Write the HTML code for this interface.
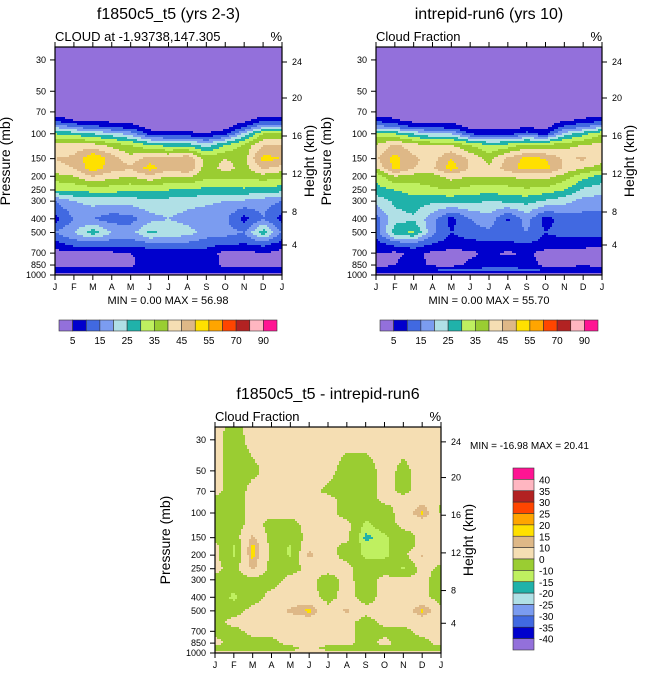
<!DOCTYPE html>
<html><head><meta charset="utf-8"><style>
body{margin:0;background:#fff;}
svg{display:block;font-family:"Liberation Sans",sans-serif;}
</style></head><body>
<svg id="fig" width="647" height="676" viewBox="0 0 647 676" xmlns="http://www.w3.org/2000/svg"></svg>
<script>
const months = ["J","F","M","A","M","J","J","A","S","O","N","D","J"];
const pressureLevels = [25,30,50,70,80,90,100,120,150,175,200,250,300,400,500,600,700,850,925,1000];
const pressureTicks = [30,50,70,100,150,200,250,300,400,500,700,850,1000];
const heightTicks = [24,20,16,12,8,4];
const absLevels = [5,10,15,20,25,30,35,40,45,50,55,60,70,80,90];
const absTickLabels = ["5","15","25","35","45","55","70","90"];
const diffLevels = [-40,-35,-30,-25,-20,-15,-10,0,10,15,20,25,30,35,40];
const diffTickLabels = ["40","35","30","25","20","15","10","0","-10","-15","-20","-25","-30","-35","-40"];
const palette = ["#9370DB","#0000CD","#4169E1","#7B9CF0","#B0E0E6","#20B2AA","#BFF060","#9ACD32","#F5DEB3","#DEB887","#FFE000","#FFA500","#FF4500","#B22222","#FFB6C1","#FF1493"];

const cloudA = [
[0,0,0,0,0,0,0,0,0,0,0,0,0],
[0,0,0,0,0,0,0,0,0,0,0,0,0],
[0,0,0,0,0,0,0,0,0,0,0,0,0],
[1,1,1,1,1,1,1,1,1,1,1,1,1],
[8,5,4,3,2,1,1,1,1,1,3,8,8],
[20,15,12,10,8,3,3,3,3,3,10,20,20],
[30,28,25,22,18,8,6,6,5,8,22,35,35],
[42,42,42,38,35,30,28,28,22,30,36,45,45],
[45,46,55,48,42,48,46,50,38,40,38,52,50],
[44,45,53,47,46,52,47,50,37,42,38,46,43],
[38,40,45,42,40,44,40,41,37,37,36,38,36],
[30,31,32,32,31,31,30,30,28,28,29,28,27],
[15,20,22,22,22,24,23,22,21,20,19,17,15],
[8,15,15,12,13,18,20,18,17,16,8,15,8],
[15,20,28,20,18,26,24,22,18,17,15,28,14],
[8,12,12,12,12,14,15,14,12,11,10,12,8],
[3,4,4,4,5,6,6,6,8,3,3,5,3],
[3,3,3,3,4,8,10,8,10,3,3,3,3],
[8,8,8,8,8,9,9,9,9,8,8,8,8],
[3,3,3,3,3,3,3,3,3,3,3,3,3]];
const cloudB = [
[0,0,0,0,0,0,0,0,0,0,0,0,0],
[0,0,0,0,0,0,0,0,0,0,0,0,0],
[0,0,0,0,0,0,0,0,0,0,0,0,0],
[1,1,1,1,1,1,1,1,1,1,1,1,1],
[8,6,3,3,3,1,1,1,2,1,4,6,8],
[18,15,10,10,8,4,3,3,5,3,12,15,20],
[32,30,25,20,20,10,8,8,12,8,22,28,35],
[40,46,42,40,40,35,30,32,36,36,38,40,42],
[44,52,46,43,50,44,38,46,52,50,44,46,42],
[40,52,45,44,53,44,41,48,52,52,44,40,38],
[32,40,38,38,42,40,40,40,42,42,38,32,28],
[28,30,32,34,35,33,32,33,34,33,30,24,22],
[22,26,28,26,26,26,25,26,27,24,22,18,17],
[13,23,24,17,8,15,18,9,17,8,12,13,13],
[12,28,31,16,10,13,14,13,15,10,12,12,12],
[8,12,14,10,8,8,9,9,10,8,7,6,6],
[5,4,6,4,3,4,6,4,6,3,4,4,3],
[3,5,7,4,3,6,8,8,8,3,3,5,3],
[8,9,9,10,11,12,12,12,11,10,9,8,8],
[3,3,3,3,3,3,3,3,3,3,3,3,3]];
const cloudDiff = [
[3,-3,3,3,3,3,3,3,3,3,3,3,3],
[3,-4,3,3,3,3,3,3,3,3,3,3,3],
[3,-5,-2,3,3,3,3,-4,-4,3,-2,3,3],
[3,-5,3,3,3,3,-2,-5,-5,3,-2,3,3],
[-2,-5,3,3,3,3,3,-4,-5,3,3,3,3],
[-3,-5,3,3,3,3,3,-4,-6,-2,3,12,-1],
[-3,-5,3,3,3,3,3,-4,-6,-3,3,17,-1],
[-3,-4,3,-3,-3,3,3,3,-12,-5,3,3,3],
[-2,-5,12,-4,-6,3,3,3,-17,-12,-5,3,3],
[3,-11,17,-3,-11,8,3,-3,-12,-12,-4,3,3],
[3,-11,17,-3,-11,12,3,-3,-12,-12,-3,11,3],
[3,-4,12,-4,-4,3,3,3,-5,-4,-11,3,-2],
[-3,-5,-3,-4,3,3,-4,3,-5,3,3,3,-5],
[-4,-12,-4,3,3,3,-3,3,-4,3,3,3,-5],
[-4,-4,3,3,12,17,3,12,3,3,3,17,3],
[-3,3,3,3,3,3,3,3,-4,3,3,3,3],
[-3,-3,3,3,3,3,3,3,-4,-3,-3,3,3],
[3,-4,-4,-3,3,3,3,3,-4,3,-4,-3,3],
[-3,-4,-4,-3,-3,3,-3,-3,-3,-3,-3,-3,-3],
[3,3,3,3,3,3,3,3,3,3,3,3,3]];

const NS="http://www.w3.org/2000/svg";
const fig=document.getElementById('fig');
function mk(tag,attrs,parent,text){const e=document.createElementNS(NS,tag);for(const k in attrs)e.setAttribute(k,attrs[k]);if(text!==undefined)e.textContent=text;(parent||fig).appendChild(e);return e;}
const LPT=Math.log10(24.3), LPB=3;
const LOGP=pressureLevels.map(Math.log10);
function levelIndex(v,levels){let i=0;while(i<levels.length&&v>=levels[i])i++;return i;}
function sample(grid,mf,lp){
  mf=Math.max(0,Math.min(12,mf));
  let c0=Math.min(Math.floor(mf),11);let tx=mf-c0;
  let r=0;
  while(r<LOGP.length-2&&lp>LOGP[r+1])r++;
  let ty=(lp-LOGP[r])/(LOGP[r+1]-LOGP[r]);ty=Math.max(0,Math.min(1,ty));
  const a=grid[r][c0],b=grid[r][c0+1],c=grid[r+1][c0],d=grid[r+1][c0+1];
  return (a*(1-tx)+b*tx)*(1-ty)+(c*(1-tx)+d*tx)*ty;
}
function panel(o){
  const g=mk('g',{},fig);
  
  
  const W=o.x1-o.x0,H=o.y1-o.y0;
  const xOf=m=>o.x0+m*W/12;
  const yOf=p=>o.y0+(Math.log10(p)-LPT)/(LPB-LPT)*H;
  const field=mk('g',{'shape-rendering':'crispEdges'},g);
  
  
  const cs=2;
  for(let y=o.y0;y<o.y1;y+=cs){
    const lp=LPT+((y+cs/2-o.y0)/H)*(LPB-LPT);
    const hh=Math.min(cs,o.y1-y);
    let runStart=o.x0,runCol=null;
    for(let x=o.x0;x<o.x1;x+=cs){
      const mf=(x+cs/2-o.x0)/W*12;
      const col=palette[levelIndex(sample(o.grid,mf,lp),o.levels)];
      if(col!==runCol){
        if(runCol!==null){mk('rect',{x:runStart,y:y,width:x-runStart,height:hh,fill:runCol},field);}
        runStart=x;runCol=col;
      }
    }
    if(runCol!==null){mk('rect',{x:runStart,y:y,width:o.x1-runStart,height:hh,fill:runCol},field);}
  }
  mk('rect',{x:o.x0,y:o.y0,width:W,height:H,fill:'none',stroke:'#000','stroke-width':1.2},g);
  months.forEach((m,i)=>{
    const x=xOf(i);
    mk('line',{x1:x,y1:o.y1,x2:x,y2:o.y1+5,stroke:'#000'},g);
    mk('line',{x1:x,y1:o.y0,x2:x,y2:o.y0-5,stroke:'#000'},g);
    const t=mk('text',{x:x,y:o.y1+15,'font-size':9,'text-anchor':'middle'},g,m);
    
    
  });
  pressureTicks.forEach(p=>{
    const y=yOf(p);
    mk('line',{x1:o.x0-5,y1:y,x2:o.x0,y2:y,stroke:'#000'},g);
    const t=mk('text',{x:o.x0-9,y:y+3,'font-size':9,'text-anchor':'end'},g,String(p));
    
    
  });
  const hOff=[15,51,89,127,165,198];
  heightTicks.forEach((h,i)=>{
    const y=o.y0+hOff[i]*H/228;
    mk('line',{x1:o.x1,y1:y,x2:o.x1+5,y2:y,stroke:'#000'},g);
    const t=mk('text',{x:o.x1+10,y:y+3,'font-size':9},g,String(h));
    
    
  });
  const tt=mk('text',{x:(o.x0+o.x1)/2,y:o.y0-28,'font-size':16,'text-anchor':'middle'},g,o.title);
  
  
  const st=mk('text',{x:o.x0,y:o.y0-6,'font-size':13},g,o.sub);
  
  
  const pc=mk('text',{x:o.x1,y:o.y0-6,'font-size':13,'text-anchor':'end'},g,'%');
  
  
  const yl=mk('text',{transform:`translate(${o.x0-45},${(o.y0+o.y1)/2}) rotate(-90)`,'font-size':14,'text-anchor':'middle'},g,'Pressure (mb)');
  
  
  const hl=mk('text',{transform:`translate(${o.x1+32},${(o.y0+o.y1)/2}) rotate(-90)`,'font-size':14,'text-anchor':'middle'},g,'Height (km)');
  
  
}
function hbar(x0,x1,y,labels){
  const g=mk('g',{},fig);
  
  
  const bw=(x1-x0)/16;
  palette.forEach((c,i)=>{const r=mk('rect',{x:x0+i*bw,y:y,width:bw,height:11,fill:c,stroke:'#333','stroke-width':0.6},g);});
  labels.forEach((l,i)=>{const t=mk('text',{x:x0+(1+2*i)*bw,y:y+24,'font-size':10,'text-anchor':'middle'},g,l);});
}
panel({name:'panel-f1850c5',x0:55,x1:282,y0:47,y1:275,grid:cloudA,levels:absLevels,title:'f1850c5_t5 (yrs 2-3)',sub:'CLOUD at -1.93738,147.305'});
panel({name:'panel-intrepid',x0:376,x1:602,y0:47,y1:275,grid:cloudB,levels:absLevels,title:'intrepid-run6 (yrs 10)',sub:'Cloud Fraction'});
panel({name:'panel-difference',x0:215,x1:441,y0:427,y1:653,grid:cloudDiff,levels:diffLevels,title:'f1850c5_t5 - intrepid-run6',sub:'Cloud Fraction'});
hbar(59,277,320,absTickLabels);
hbar(380,598,320,absTickLabels);
[[168,'MIN =   0.00 MAX =  56.98','minmax-left'],[489,'MIN =   0.00 MAX =  55.70','minmax-right']].forEach(a=>{
  const t=mk('text',{x:a[0],y:304,'font-size':11,'text-anchor':'middle','xml:space':'preserve'},fig,a[1]);
  });
const mm=mk('text',{x:470,y:449,'font-size':10,'xml:space':'preserve'},fig,'MIN = -16.98 MAX =  20.41');

const vb=mk('g',{},fig);


const bh=(650-468)/16;
palette.slice().reverse().forEach((c,i)=>{const r=mk('rect',{x:513,y:468+i*bh,width:21,height:bh,fill:c,stroke:'#333','stroke-width':0.6},vb);});
diffTickLabels.forEach((l,i)=>{const t=mk('text',{x:539,y:468+(i+1)*bh+4,'font-size':10},vb,l);});
</script>
</body></html>
